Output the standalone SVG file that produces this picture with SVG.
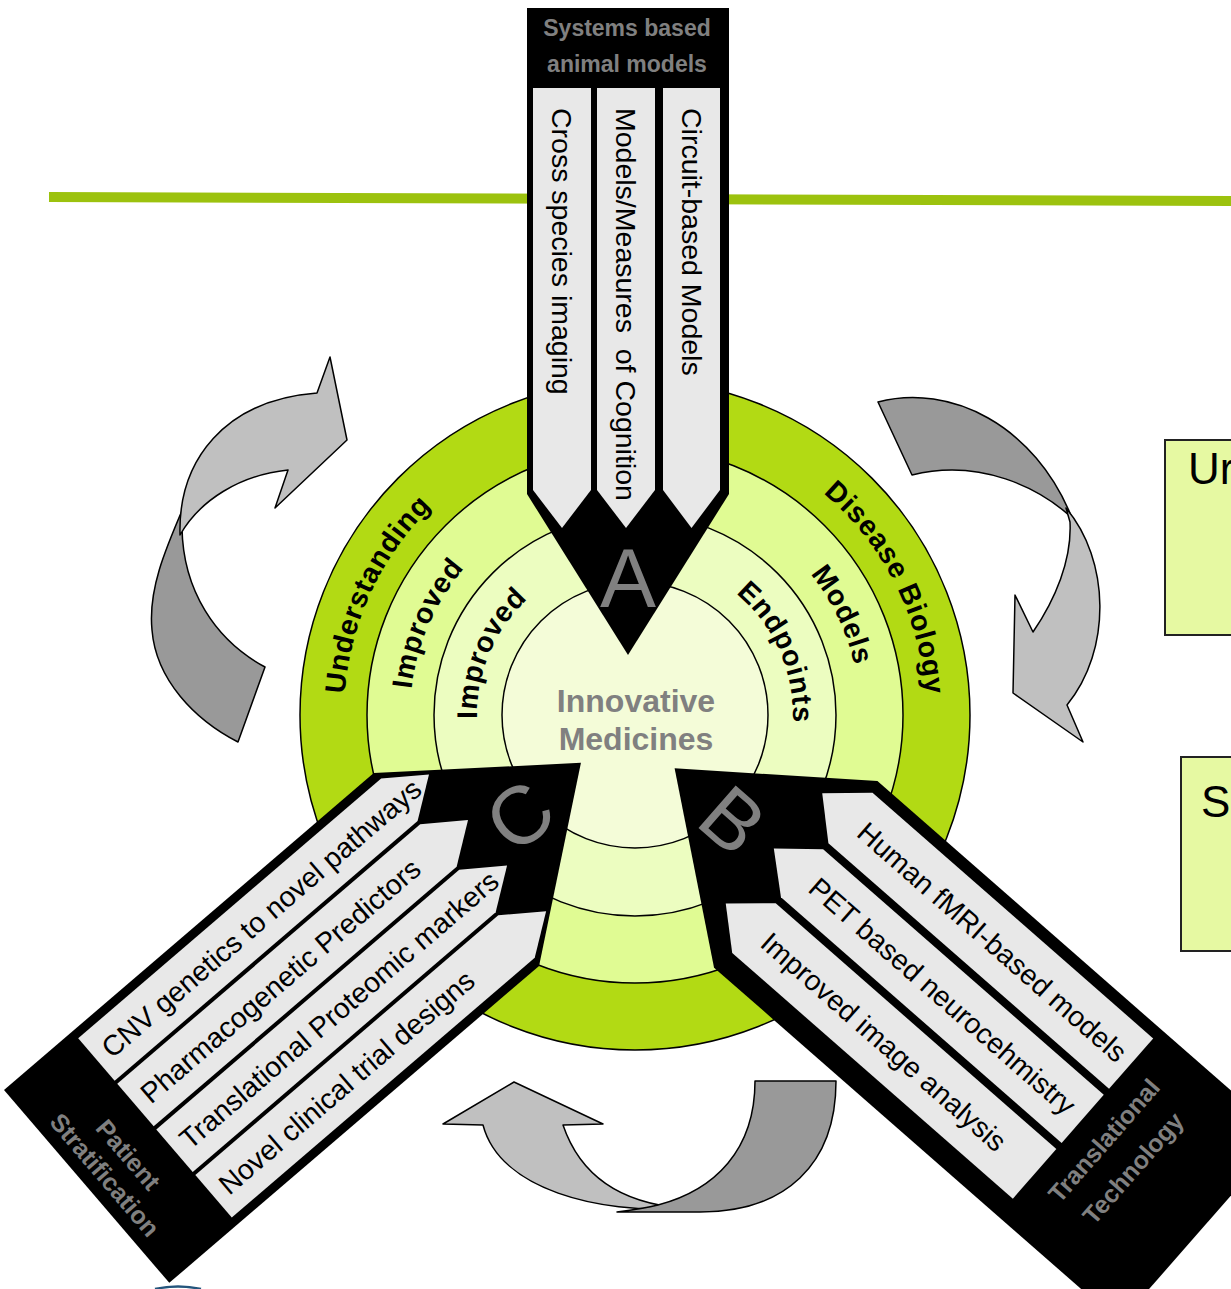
<svg xmlns="http://www.w3.org/2000/svg" width="1231" height="1289" viewBox="0 0 1231 1289">
<defs>
<style>
 .ink{fill:#000}
 .strip{fill:#e8e8e8}
 .st{font-family:"Liberation Sans",Arial,sans-serif;font-size:28.5px;fill:#000}
 .hd{font-family:"Liberation Sans",Arial,sans-serif;font-weight:bold;font-size:23px;fill:#808080;text-anchor:middle}
 .tag{font-family:"Liberation Sans",Arial,sans-serif;font-weight:bold;font-size:25px;fill:#808080;text-anchor:middle}
 .big{font-family:"Liberation Sans",Arial,sans-serif;font-size:82px;fill:#808080;text-anchor:middle}
 .ring{stroke:#000;stroke-width:1.5}
 .lab{font-family:"Liberation Sans",Arial,sans-serif;font-weight:bold;font-size:28.5px;letter-spacing:0.8px;fill:#000;text-anchor:middle}
 .core{font-family:"Liberation Sans",Arial,sans-serif;font-weight:bold;font-size:32px;fill:#808080;text-anchor:middle}
 .dark{fill:#999;stroke:#000;stroke-width:1.5;stroke-linejoin:round}
 .light{fill:#c0c0c0;stroke:#000;stroke-width:1.5;stroke-linejoin:round}
 .box{fill:#e6f9a2;stroke:#222;stroke-width:2}
 .bt{font-family:"Liberation Sans",Arial,sans-serif;font-size:44px;fill:#000}
</style>
<!-- clockwise arcs used as text baselines, centre (635,715) -->
<path id="arc-l-291" d="M432.8,924.3 A291,291 0 0 1 655.3,424.7"/>
<path id="arc-l-225" d="M478.7,876.8 A225,225 0 0 1 650.7,490.5"/>
<path id="arc-l-158" d="M525.2,828.6 A158,158 0 0 1 646,557.4"/>
<path id="arc-r-291" d="M604.6,425.6 A291,291 0 0 1 844.3,917.2"/>
<path id="arc-r-225" d="M611.5,491.2 A225,225 0 0 1 796.8,871.3"/>
<path id="arc-r-158" d="M618.5,557.9 A158,158 0 0 1 748.6,824.8"/>
</defs>

<rect width="1231" height="1289" fill="#fff"/>

<!-- green rule -->
<line x1="49" y1="197" x2="1231" y2="201" stroke="#9cc20e" stroke-width="10"/>

<!-- side boxes -->
<g id="box-1">
 <rect class="box" x="1165" y="440" width="90" height="195"/>
 <text class="bt" x="1188" y="484">Ur</text>
</g>
<g id="box-2">
 <rect class="box" x="1181" y="757" width="80" height="194"/>
 <text class="bt" x="1201" y="817">S</text>
</g>

<!-- concentric target -->
<g id="target">
 <circle class="ring" cx="635" cy="715" r="335" fill="#b2da14"/>
 <circle class="ring" cx="635" cy="715" r="268" fill="#e0fb93"/>
 <circle class="ring" cx="635" cy="715" r="201" fill="#ecfdc0"/>
 <circle class="ring" cx="635" cy="715" r="133" fill="#f4fcd8"/>
 <text class="lab"><textPath href="#arc-l-291" startOffset="50.7%">Understanding</textPath></text>
 <text class="lab"><textPath href="#arc-l-225" startOffset="49.8%">Improved</textPath></text>
 <text class="lab"><textPath href="#arc-l-158" startOffset="49.3%">Improved</textPath></text>
 <text class="lab"><textPath href="#arc-r-291" startOffset="49.4%">Disease Biology</textPath></text>
 <text class="lab"><textPath href="#arc-r-225" startOffset="50.2%">Models</textPath></text>
 <text class="lab"><textPath href="#arc-r-158" startOffset="51.6%">Endpoints</textPath></text>
 <text class="core" x="636" y="712">Innovative</text>
 <text class="core" x="636" y="750">Medicines</text>
</g>

<!-- cycle arrows -->
<g id="connectors">
 <path class="dark" d="M265,667 C215,640 183,590 182,528 L184,506 C165,550 148,590 152,630 C156,680 195,720 238,742 Z"/>
 <path class="light" d="M180,535 C178,460 225,400 317,393 L330,357 L347,440 L275,508 L288,470 C240,475 200,500 180,535 Z"/>
 <path class="dark" d="M878,402 C950,383 1035,425 1072,518 C1040,488 980,458 912,475 Z"/>
 <path class="light" d="M1066,508 C1110,560 1112,650 1067,705 L1083,742 L1013,693 L1015,595 L1033,632 C1055,600 1072,560 1070,522 Z"/>
 <path class="light" d="M483,1125 L443,1124 L514,1082 L603,1124 L563,1125 C580,1175 620,1203 682,1208 C600,1214 500,1190 483,1125 Z"/>
 <path class="dark" d="M755,1081 L836,1081 C836,1165 785,1212 700,1212 C660,1212 635,1212 617,1212 C640,1209 650,1207 658,1205 C715,1190 755,1150 755,1081 Z"/>
</g>

<!-- pencil A: systems based animal models -->
<g id="pencil-a">
 <g transform="translate(729,8) rotate(90)">
  <polygon class="ink" points="0,0 486,0 647,101 486,202 0,202"/>
  <polygon class="strip" points="80,9 482,9 520,37.5 482,66 80,66"/>
  <polygon class="strip" points="80,74 482,74 520,103 482,132 80,132"/>
  <polygon class="strip" points="80,138 482,138 520,167 482,196 80,196"/>
  <text class="st" x="100" y="177">Cross species imaging</text>
  <text class="st" x="100" y="113" xml:space="preserve">Models/Measures  of Cognition</text>
  <text class="st" x="100" y="47.5">Circuit-based Models</text>
 </g>
 <text class="hd" x="627" y="36">Systems based</text>
 <text class="hd" x="627" y="72">animal models</text>
 <text class="big" x="628" y="607" style="font-size:84px">A</text>
</g>

<!-- pencil C: patient stratification -->
<g id="pencil-c" transform="translate(4,1090) rotate(-40.6)">
 <polygon class="ink" points="0,0 487,0 651,127 487,254 0,254"/>
 <polygon class="strip" points="90,9 489,9 528,37 489,65 90,65"/>
 <polygon class="strip" points="90,69 489,69 528,97 489,125 90,125"/>
 <polygon class="strip" points="90,129 489,129 528,157 489,185 90,185"/>
 <polygon class="strip" points="90,189 489,189 528,217 489,245 90,245"/>
 <text class="st" x="102" y="47">CNV genetics to novel pathways</text>
 <text class="st" x="102" y="107">Pharmacogenetic Predictors</text>
 <text class="st" x="102" y="167">Translational Proteomic markers</text>
 <text class="st" x="102" y="227">Novel clinical trial designs</text>
 <text class="big" x="570" y="156">C</text>
 <text class="tag" transform="translate(43.5,130) rotate(90)">Patient</text>
 <text class="tag" transform="translate(12.5,130) rotate(90)">Stratification</text>
</g>

<!-- pencil B: translational technology -->
<g id="pencil-b" transform="translate(674.6,768.3) rotate(41.2)">
 <polygon class="ink" points="0,0 161,-124 700,-124 700,124 161,124"/>
 <polygon class="strip" points="127.5,-78.5 165,-112 538,-112 538,-45 165,-45"/>
 <polygon class="strip" points="127.5,-5 165,-37 538,-37 538,27 165,27"/>
 <polygon class="strip" points="127.5,68 165,35 538,35 538,101 165,101"/>
 <text class="st" x="180" y="-68.5">Human fMRI-based models</text>
 <text class="st" x="180" y="5">PET based neurocehmistry</text>
 <text class="st" x="180" y="78">Improved image analysis</text>
 <text class="big" x="78" y="29">B</text>
 <text class="tag" transform="translate(577,-2.7) rotate(-90)">Translational</text>
 <text class="tag" transform="translate(617,-1) rotate(-90)">Technology</text>
</g>

<!-- edge of a shape below the frame -->
<path d="M155,1289 Q178,1284 201,1289" fill="none" stroke="#24557c" stroke-width="2.5"/>
</svg>
